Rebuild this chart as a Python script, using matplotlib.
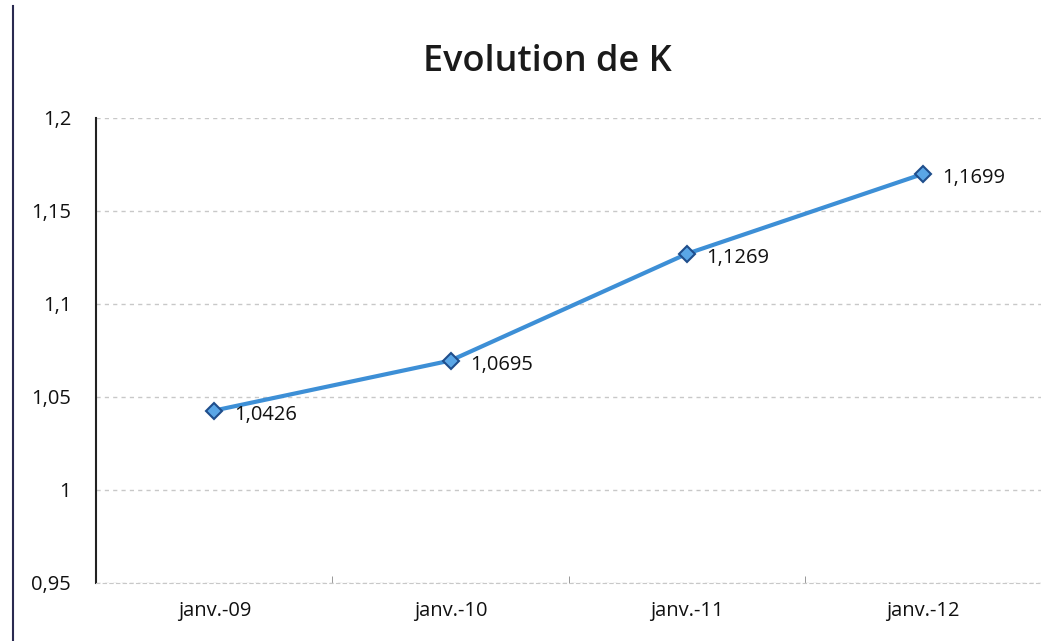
import matplotlib.pyplot as plt
from matplotlib.ticker import FuncFormatter
from matplotlib.lines import Line2D

plt.rcParams['font.family'] = ['Open Sans', 'DejaVu Sans']

dates = ['janv.-09', 'janv.-10', 'janv.-11', 'janv.-12']
k_values = [1.0426, 1.0695, 1.1269, 1.1699]
y_ticks = [0.95, 1.0, 1.05, 1.1, 1.15, 1.2]


def comma(v, pos=None):
    s = f"{v:.2f}".rstrip('0').rstrip('.')
    return s.replace('.', ',')


fig = plt.figure(figsize=(10.57, 6.41), dpi=100)
ax = fig.add_axes([0.091, 0.091, 0.894, 0.725])

x = list(range(len(dates)))
ax.plot(x, k_values, color='#3d8fd6', lw=3, marker='D', markersize=8.5,
        markerfacecolor='#5aa6e6', markeredgecolor='#1f4e8c', markeredgewidth=1.5,
        zorder=3)

for xi, v in zip(x, k_values):
    ax.annotate(f"{v:.4f}".replace('.', ','), (xi, v), xytext=(14, -3),
                textcoords='offset points', ha='left', va='center',
                fontsize=14.5, color='#111111')

ax.set_xlim(-0.5, len(dates) - 0.5)
ax.set_ylim(0.95, 1.2)
ax.set_yticks(y_ticks)
ax.yaxis.set_major_formatter(FuncFormatter(comma))
ax.set_xticks(x)
ax.set_xticklabels(dates)
ax.set_xticks([i + 0.5 for i in x[:-1]], minor=True)

ax.grid(axis='y', color='#c8c8c8', lw=1, linestyle=(0, (3, 3)))
ax.set_axisbelow(True)

for side in ['top', 'right']:
    ax.spines[side].set_visible(False)
ax.spines['left'].set_color('#222222')
ax.spines['left'].set_linewidth(1.5)
ax.spines['bottom'].set_color('#c8c8c8')
ax.spines['bottom'].set_linestyle((0, (3, 3)))

ax.tick_params(axis='y', length=0, pad=18, labelsize=14.5, labelcolor='#111111')
ax.tick_params(axis='x', which='major', length=0, pad=13, labelsize=14.5,
               labelcolor='#111111')
ax.tick_params(axis='x', which='minor', length=5, color='#888888', direction='in')

fig.text(0.518, 0.903, 'Evolution de K', ha='center', va='center', fontsize=26,
         fontweight='semibold', color='#1a1a1a')

# scanned chart frame edge on the left
fig.add_artist(Line2D([0.012, 0.012], [0.0, 0.99], transform=fig.transFigure,
                      color='#2a2a50', lw=1.5))

fig.savefig('out.png', dpi=100)
